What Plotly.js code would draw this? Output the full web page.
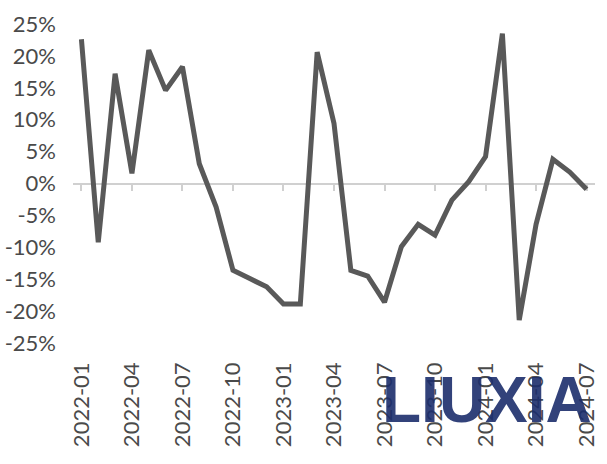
<!DOCTYPE html>
<html>
<head>
<meta charset="utf-8">
<script src="https://cdn.plot.ly/plotly-3.0.1.min.js"></script>
<style>html,body{margin:0;padding:0;background:#fff;}#chart{width:607px;height:464px;}</style>
</head>
<body>
<div id="chart"></div>
<script>
// Monthly categories
var months = ['2022-01','2022-02','2022-03','2022-04','2022-05','2022-06','2022-07','2022-08','2022-09','2022-10','2022-11','2022-12',
              '2023-01','2023-02','2023-03','2023-04','2023-05','2023-06','2023-07','2023-08','2023-09','2023-10','2023-11','2023-12',
              '2024-01','2024-02','2024-03','2024-04','2024-05','2024-06','2024-07'];
// Series values (%)
var values = [22.6, -9.2, 17.2, 1.6, 20.9, 14.6, 18.3, 3.1, -3.7, -13.6, -14.9, -16.2,
              -18.9, -18.9, 20.6, 9.4, -13.6, -14.5, -18.6, -9.9, -6.4, -8.1, -2.6, 0.3,
              4.2, 23.5, -21.4, -6.4, 3.8, 1.8, -0.9];
// Tick labels
var xTickLabels = ['2022-01','2022-04','2022-07','2022-10','2023-01','2023-04','2023-07','2023-10','2024-01','2024-04','2024-07'];
var yTickVals = [25, 20, 15, 10, 5, 0, -5, -10, -15, -20, -25];
var yTickText = ['25%','20%','15%','10%','5%','0%','-5%','-10%','-15%','-20%','-25%'];

var font = {family: 'Lato, "Liberation Sans", sans-serif', size: 22, color: '#4a4a4a'};

// invisible copy on the label axis so that axis is drawn
var labelTrace = {
  x: months, y: values, type: 'scatter', mode: 'lines', opacity: 0,
  line: {color: '#595959', width: 1}, xaxis: 'x', yaxis: 'y', hoverinfo: 'none'
};
var trace = {
  x: months, y: values, type: 'scatter', mode: 'lines',
  line: {color: '#595959', width: 5},
  xaxis: 'x2', yaxis: 'y', hoverinfo: 'none'
};

var layout = {
  width: 607, height: 464,
  margin: {l: 73, r: 12, t: 24, b: 121},
  paper_bgcolor: '#ffffff', plot_bgcolor: '#ffffff',
  showlegend: false,
  font: font,
  xaxis: {
    type: 'category', categoryorder: 'array', categoryarray: months,
    range: [-0.5, months.length - 0.5],
    tickmode: 'array', tickvals: xTickLabels, ticktext: xTickLabels,
    tickangle: -90, ticks: '', showline: false, showgrid: false, zeroline: false,
    ticklabelstandoff: 14, tickfont: font, fixedrange: true
  },
  xaxis2: {
    type: 'category', categoryorder: 'array', categoryarray: months,
    overlaying: 'x', anchor: 'free', position: 0.5,
    range: [-0.5, months.length - 0.5],
    tickmode: 'linear', tick0: -0.5, dtick: 3,
    ticks: 'outside', ticklen: 6, tickwidth: 2, tickcolor: '#d0d0d0',
    showline: true, linecolor: '#d0d0d0', linewidth: 2,
    showticklabels: false, showgrid: false, zeroline: false, layer: 'below traces'
  },
  yaxis: {
    range: [-25, 25], tickmode: 'array', tickvals: yTickVals, ticktext: yTickText,
    showgrid: false, zeroline: false, showline: false, ticks: '',
    ticklabelstandoff: 16, tickfont: font, fixedrange: true
  },
  annotations: [{
    text: '<b>LIUXIA</b>', xref: 'paper', yref: 'paper', x: 0.793, y: -0.178,
    xanchor: 'center', yanchor: 'middle', showarrow: false,
    font: {family: '"Liberation Sans", Arial, sans-serif', size: 64, color: 'rgba(28,45,107,0.9)'}
  }]
};

Plotly.newPlot('chart', [labelTrace, trace], layout, {staticPlot: true, displayModeBar: false});
</script>
</body>
</html>
